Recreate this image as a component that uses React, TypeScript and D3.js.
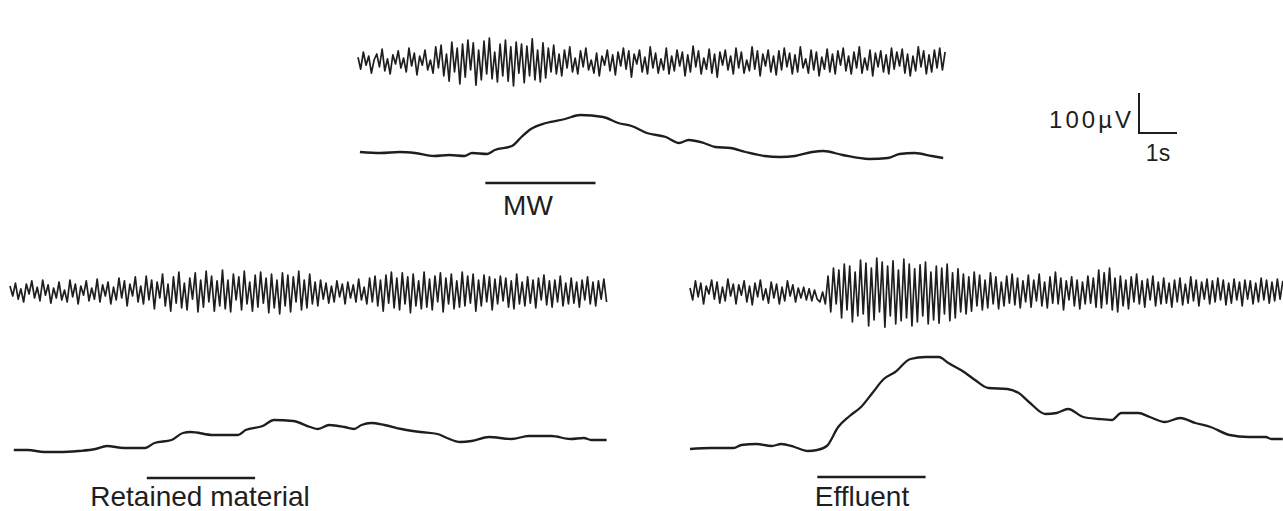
import React from 'react';
import * as d3 from 'd3';

// px per second / px per µV used by all three panels (scale bar: 1 s, 100 µV)
const PX_PER_S = 38;
const PX_PER_UV = 0.4;

// ---- MW panel (top) ----
const mwRaw = [
  12, -18, 25, -8, 15, -28, 5, 20, -12, 32, -22, 8, -30, 18, -5, 28, -15, 10, -25, 35,
  -10, 22, -32, 15, -8, 30, -20, 5, -28, 38, -15, 42, -35, 20, -48, 50, -25, 35, -55, 45,
  -38, 55, -20, 48, -58, 30, -45, 52, -30, 60, -42, 25, -50, 45, -35, 55, -48, 38, -60, 50,
  -28, 45, -52, 40, -35, 58, -45, 30, -50, 48, -40, 35, -25, 42, -30, 20, -35, 30, -15, 38,
  -25, 10, -30, 28, -12, 35, -20, 5, -28, 22, -35, 15, -8, 30, -22, 18, -32, 25, -10, 35,
  -18, 28, -38, 20, -5, 30, -25, 12, -30, 38, -15, 22, -28, 8, -20, 35, -30, 15, -22, 30,
  -10, 25, -35, 18, -25, 40, -12, 28, -30, 10, -18, 32, -28, 20, -38, 25, -8, 30, -20, 15,
  -30, 35, -15, 25, -28, 5, -22, 38, -18, 28, -35, 20, -10, 30, -25, 15, -32, 28, -20, 35,
  -12, 22, -30, 18, -25, 38, -15, 8, -28, 30, -20, 25, -35, 12, -18, 32, -25, 20, -30, 28,
  -8, 35, -22, 15, -30, 25, -15, 38, -28, 10, -20, 30, -35, 22, -12, 28, -25, 18, -30, 35,
  -18, 25, -10, 32, -28, 20, -35, 15, -22, 38, -12, 28, -30, 18, -25, 30, -15, 35, -20, 25,
];
const mwIntT = [0.05, 0.6, 1.1, 1.5, 2.0, 2.4, 2.8, 3.0, 3.4, 3.6, 4.05, 4.3, 4.55, 4.95, 5.45, 5.85, 6.45, 6.85, 7.2, 7.6, 8.1, 8.45, 8.7, 9.1, 9.4, 9.8, 10.2, 10.7, 11.1, 11.5, 11.95, 12.25, 12.75, 13.45, 13.95, 14.25, 14.65, 15.1, 15.4];
const mwIntV = [0, -2.5, 0, -2.5, -10, -7.5, -10, -2.5, -5, 5, 15, 37.5, 57.5, 72.5, 82.5, 92.5, 87.5, 72.5, 65, 47.5, 37.5, 22.5, 30, 22.5, 12.5, 10, 0, -10, -12.5, -10, 0, 2.5, -7.5, -17.5, -15, -5, -2.5, -10, -15];

// ---- Retained material panel (bottom left) ----
const retRaw = [
  15, -10, 22, -18, 8, -25, 20, -5, 28, -15, 12, -22, 30, -8, 18, -28, 10, -15, 25, -20,
  5, -25, 30, -12, 20, -30, 15, -8, 28, -22, 10, -18, 32, -25, 18, -10, 25, -30, 12, -20,
  35, -15, 28, -35, 20, -10, 38, -25, 15, -30, 40, -20, 30, -42, 25, -15, 45, -35, 20, -48,
  38, -28, 50, -40, 22, -45, 35, -18, 48, -50, 30, -38, 52, -25, 40, -48, 28, -35, 55, -42,
  30, -50, 45, -20, 38, -45, 52, -30, 25, -48, 42, -38, 50, -28, 35, -52, 45, -40, 30, -55,
  48, -35, 42, -50, 38, -25, 52, -45, 30, -40, 45, -30, 25, -35, 30, -18, 22, -28, 15, -25,
  28, -12, 20, -30, 25, -15, 18, -25, 32, -20, 12, -30, 35, -25, 40, -35, 30, -48, 42, -28,
  50, -40, 35, -45, 48, -30, 38, -52, 45, -35, 28, -42, 50, -38, 32, -45, 40, -25, 48, -50,
  35, -30, 45, -42, 28, -38, 50, -35, 40, -28, 45, -48, 30, -35, 42, -25, 38, -45, 32, -30,
  40, -22, 35, -38, 28, -42, 45, -30, 25, -35, 38, -28, 30, -40, 35, -20, 42, -32, 28, -38,
  30, -25, 40, -35, 22, -30, 35, -28, 25, -38, 30, -20, 38, -30, 25, -35, 28, -18, 32, -25,
];
const retIntT = [0.1, 0.47, 0.9, 1.3, 1.8, 2.25, 2.55, 3.0, 3.55, 3.8, 4.25, 4.55, 4.75, 5.35, 6.0, 6.2, 6.65, 6.95, 7.45, 7.9, 8.1, 8.4, 8.8, 9.05, 9.25, 9.5, 9.85, 10.3, 10.8, 11.25, 11.5, 11.85, 12.15, 12.6, 13.2, 13.65, 14.25, 14.75, 15.1, 15.3, 15.7];
const retIntV = [0, 0, -5, -5, -2.5, 2.5, 10, 5, 5, 17.5, 25, 42.5, 45, 37.5, 37.5, 50, 60, 75, 72.5, 57.5, 52.5, 62.5, 57.5, 52.5, 62.5, 67.5, 62.5, 52.5, 45, 40, 30, 20, 22.5, 32.5, 27.5, 35, 35, 27.5, 30, 25, 25];

// ---- Effluent panel (bottom right) ----
const effRaw = [
  10, -20, 28, -12, 22, -30, 15, -5, 30, -18, 25, -28, 12, -22, 32, -10, 20, -30, 18, -8,
  28, -25, 15, -32, 22, -12, 30, -20, 8, -28, 25, -15, 20, -30, 12, -22, 28, -10, 18, -25,
  10, -15, 12, -20, 8, -22, 5, -18, -25, 0, -30, 40, -50, 60, -30, 55, -65, 70, -45, 65,
  -75, 50, -60, 80, -55, 72, -85, 60, -70, 85, -50, 75, -88, 65, -60, 78, -80, 55, -72, 82,
  -65, 70, -85, 58, -75, 68, -60, 75, -80, 50, -70, 65, -78, 60, -55, 70, -72, 48, -65, 58,
  -50, 45, -55, 38, -48, 50, -35, 42, -45, 30, -40, 48, -30, 38, -42, 25, -35, 40, -28, 45,
  -32, 35, -40, 28, -25, 42, -38, 30, -22, 45, -35, 25, -40, 38, -28, 50, -30, 35, -45, 28,
  -20, 38, -35, 30, -42, 25, -30, 40, -28, 35, -38, 55, -40, 48, -30, 60, -45, 35, -50, 40,
  -35, 30, -42, 38, -25, 45, -30, 28, -38, 32, -20, 40, -35, 25, -30, 35, -28, 22, -38, 30,
  -25, 35, -32, 20, -28, 38, -22, 30, -35, 25, -18, 32, -30, 28, -25, 35, -20, 30, -32, 22,
  -28, 32, -20, 25, -35, 30, -18, 28, -30, 22, -25, 35, -20, 30, -28, 25, -22, 32, -18, 28,
];
const effIntT = [0, 0.55, 1.15, 1.35, 1.75, 2.15, 2.4, 2.75, 3.1, 3.35, 3.6, 3.9, 4.2, 4.5, 4.8, 5.1, 5.4, 5.8, 6.2, 6.55, 6.8, 7.25, 7.5, 7.85, 8.35, 8.65, 8.95, 9.35, 9.65, 9.95, 10.35, 10.75, 11.1, 11.35, 11.8, 12.1, 12.5, 12.9, 13.3, 13.7, 14.2, 14.7, 15.15, 15.3, 15.6];
const effIntV = [-2.5, 0, 0, 7.5, 10, 5, 10, 2.5, -7.5, -5, 5, 52.5, 80, 102.5, 137.5, 172.5, 190, 222.5, 227.5, 227.5, 212.5, 187.5, 170, 150, 147.5, 137.5, 112.5, 85, 87.5, 97.5, 77.5, 72.5, 70, 87.5, 87.5, 77.5, 65, 75, 62.5, 52.5, 32.5, 27.5, 27.5, 22.5, 22.5];

const panels = [
  { key: 'mw', label: 'MW', x0: 358, dur: 15.45, rawY: 62, intY: 152, raw: mwRaw, intT: mwIntT, intV: mwIntV, stim: [3.35, 6.25], barY: 183, labelX: 528, labelY: 215 },
  { key: 'ret', label: 'Retained material', x0: 10, dur: 15.7, rawY: 292, intY: 450, raw: retRaw, intT: retIntT, intV: retIntV, stim: [3.6, 6.45], barY: 478, labelX: 200, labelY: 506 },
  { key: 'eff', label: 'Effluent', x0: 690, dur: 15.6, rawY: 292, intY: 448, raw: effRaw, intT: effIntT, intV: effIntV, stim: [3.35, 6.2], barY: 477, labelX: 862, labelY: 506 },
];

const INK = '#1e1e1e';
const FONT = '"Liberation Sans", Arial, sans-serif';

function Panel({ p }) {
  const x = d3.scaleLinear().domain([0, p.dur]).range([p.x0, p.x0 + p.dur * PX_PER_S]);
  const yRaw = d3.scaleLinear().domain([0, 100]).range([p.rawY, p.rawY - 100 * PX_PER_UV]);
  const yInt = d3.scaleLinear().domain([0, 100]).range([p.intY, p.intY - 100 * PX_PER_UV]);

  const n = p.raw.length;
  const rawLine = d3.line<number>()
    .x((_, i) => x((i / (n - 1)) * p.dur))
    .y((d) => yRaw(d));

  const intLine = d3.line<number>()
    .x((_, i) => x(p.intT[i]))
    .y((d) => yInt(d))
    .curve(d3.curveMonotoneX);

  return (
    <g>
      <path d={rawLine(p.raw) || ''} fill="none" stroke={INK} strokeWidth={1.7} strokeLinejoin="round" />
      <path d={intLine(p.intV) || ''} fill="none" stroke={INK} strokeWidth={2.3} strokeLinejoin="round" />
      <line x1={x(p.stim[0])} x2={x(p.stim[1])} y1={p.barY} y2={p.barY} stroke={INK} strokeWidth={2.5} />
      <text x={p.labelX} y={p.labelY} textAnchor="middle" fontSize={28} fontFamily={FONT} fill={INK}>
        {p.label}
      </text>
    </g>
  );
}

export default function App() {
  // calibration bar: 1 s horizontal, 100 µV vertical
  const sx = d3.scaleLinear().domain([0, 1]).range([1139, 1139 + PX_PER_S]);
  const sy = d3.scaleLinear().domain([0, 100]).range([133, 133 - 100 * PX_PER_UV]);

  return (
    <svg width={1283} height={511} style={{ position: 'absolute', left: 0, top: 0, background: '#fff' }}>
      {panels.map((p) => <Panel key={p.key} p={p} />)}
      <path
        d={`M${sx(0)},${sy(100)}L${sx(0)},${sy(0)}L${sx(1)},${sy(0)}`}
        fill="none"
        stroke={INK}
        strokeWidth={2}
      />
      <text x={sx(0) - 5} y={128} textAnchor="end" fontSize={24} letterSpacing={3} fontFamily={FONT} fill={INK}>100µV</text>
      <text x={sx(0.5)} y={161} textAnchor="middle" fontSize={23} fontFamily={FONT} fill={INK}>1s</text>
    </svg>
  );
}
